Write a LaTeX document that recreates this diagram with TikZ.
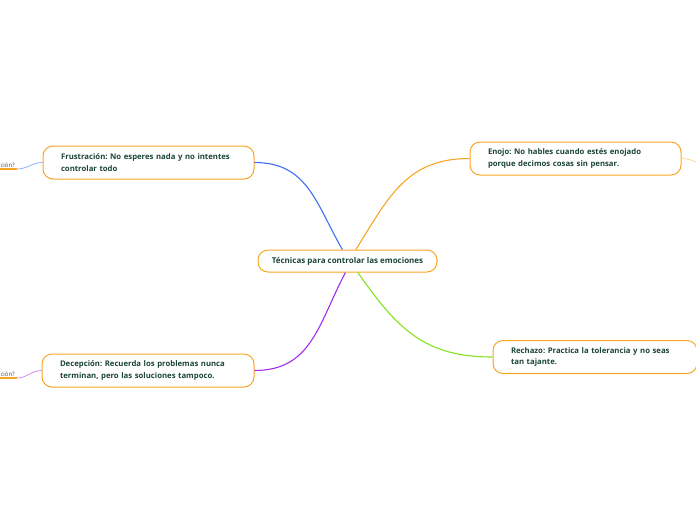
\documentclass[tikz,border=0pt]{standalone}
\usepackage{fontspec}
\setmainfont{Open Sans}
\usetikzlibrary{positioning}
\definecolor{texto}{HTML}{1B4536}
\definecolor{naranja}{HTML}{F8A526}
\definecolor{azul}{HTML}{3D6EF5}
\definecolor{lila}{HTML}{A32CF0}
\definecolor{verde}{HTML}{86E21F}
\frenchspacing

\begin{document}
\begin{tikzpicture}[x=1pt,y=-1pt,
  tema/.style={draw=naranja,line width=1pt,rounded corners=10pt,fill=white,
    text=texto,font=\fontsize{7.75}{11.6}\selectfont\bfseries,align=left},
  idea/.style={tema,text width=#1,inner xsep=18pt,inner ysep=6pt,minimum height=33pt},
  sub/.style={text=black!70,font=\fontsize{6}{7}\selectfont,inner xsep=2pt,inner ysep=1.5pt},
  rama/.style={line width=1.1pt}]
\clip (0,0) rectangle (696,520);
% Central topic and the four main ideas.
\node[tema,font=\fontsize{8}{10}\selectfont\bfseries,inner xsep=12pt,minimum height=22pt,
  minimum width=179pt] (tec) at (347.5,261)
  {Técnicas para controlar las emociones};
\node[idea=175pt] (frus) at (148.5,162.5)
  {Frustración: No esperes nada y no intentes\\controlar todo};
\node[idea=175pt] (enojo) at (575.5,158.5)
  {Enojo: No hables cuando estés enojado\\porque decimos cosas sin pensar.};
\node[idea=168pt] (rech) at (595,357)
  {Rechazo: Practica la tolerancia y no seas\\tan tajante.};
\node[idea=176pt] (decep) at (148,370.5)
  {Decepción: Recuerda los problemas nunca\\terminan, pero las soluciones tampoco.};
% Branches from the centre.
\draw[rama,azul] (tec.114) to[out=120,in=0,looseness=1.1] (frus.east);
\draw[rama,naranja] (tec.54) to[out=58,in=180,looseness=1.1] (enojo.west);
\draw[rama,lila] (tec.260) to[out=-118,in=0,looseness=1.1] (decep.east);
\draw[rama,verde] (tec.312) to[out=-55,in=180,looseness=1.1] (rech.west);
% Sub-topics cut by the page edge.
\node[sub,anchor=south east] (pfrus) at (17,169) {ción?};
\node[sub,anchor=south east] (pdecep) at (17,378) {ción?};
\draw[naranja,line width=1.5pt] (pfrus.south west) -- (pfrus.south east);
\draw[naranja,line width=1.5pt] (pdecep.south west) -- (pdecep.south east);
\draw[azul!55,line width=.8pt] (frus.west) to[out=180,in=0] (pfrus.south east);
\draw[lila!55,line width=.8pt] (decep.west) to[out=180,in=0] (pdecep.south east);
\coordinate (fuera) at (714,167);
\draw[naranja!45,line width=.8pt] (enojo.east) to[out=0,in=180] (fuera);
\end{tikzpicture}
\end{document}
